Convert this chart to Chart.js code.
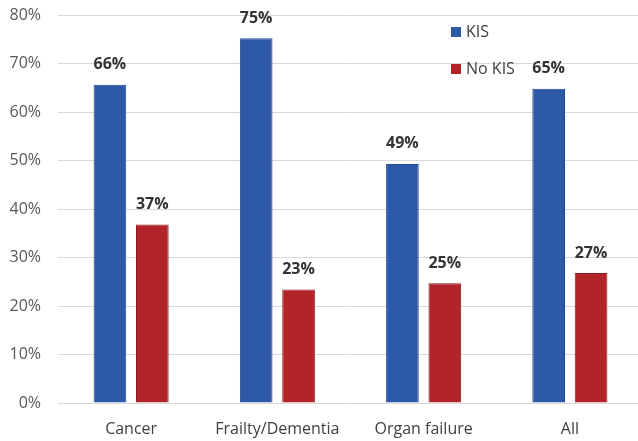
<!DOCTYPE html>
<html>
<head>
<meta charset="utf-8">
<script src="https://cdn.jsdelivr.net/npm/chart.js@4/dist/chart.umd.min.js"></script>
<style>
  html, body { margin: 0; padding: 0; background: #fff; overflow: hidden; }
  #wrap { width: 643px; height: 441px; }
</style>
</head>
<body>
<div id="wrap"><canvas id="kis-chart"></canvas></div>
<script>
const categories = ["Cancer", "Frailty/Dementia", "Organ failure", "All"];
const kisValues = [65.6, 75.2, 49.3, 64.8];
const noKisValues = [36.8, 23.4, 24.7, 26.8];
const yTicks = [0, 10, 20, 30, 40, 50, 60, 70, 80];

const fontFamily = "'Open Sans', sans-serif";

// value labels above each bar
const barLabels = {
  id: 'barLabels',
  afterDatasetsDraw(chart) {
    const ctx = chart.ctx;
    ctx.save();
    ctx.font = "bold 16px " + fontFamily;
    ctx.fillStyle = '#333333';
    ctx.textAlign = 'center';
    ctx.textBaseline = 'middle';
    chart.data.datasets.forEach((ds, i) => {
      chart.getDatasetMeta(i).data.forEach((bar, j) => {
        ctx.fillText(Math.round(ds.data[j]) + '%', bar.x, bar.y - 20);
      });
    });
    ctx.restore();
  }
};

// legend drawn inside the plot, top right
const boxLegend = {
  id: 'boxLegend',
  afterDraw(chart) {
    const ctx = chart.ctx;
    ctx.save();
    ctx.font = "16px " + fontFamily;
    ctx.textBaseline = 'middle';
    chart.data.datasets.forEach((ds, i) => {
      const y = 32 + i * 37;
      ctx.fillStyle = ds.backgroundColor;
      ctx.fillRect(451, y - 5, 10, 10);
      ctx.fillStyle = '#404040';
      ctx.fillText(ds.label, 466, y);
    });
    ctx.restore();
  }
};

new Chart(document.getElementById('kis-chart'), {
  type: 'bar',
  data: {
    labels: categories,
    datasets: [{
      label: 'KIS',
      data: kisValues,
      backgroundColor: '#2E58A8',
      borderColor: '#234a90',
      borderWidth: 1
    }, {
      label: 'No KIS',
      data: noKisValues,
      backgroundColor: '#B22428',
      borderColor: '#8f1c1f',
      borderWidth: 1
    }]
  },
  options: {
    responsive: true,
    maintainAspectRatio: false,
    animation: { duration: 0 },
    categoryPercentage: 0.58,
    barPercentage: 0.77,
    layout: { padding: { top: 15, right: 0, left: 0, bottom: 0 } },
    scales: {
      x: {
        grid: { display: false },
        border: { display: false },
        ticks: { color: '#404040', font: { family: fontFamily, size: 16 }, padding: 9 },
        afterFit: s => { s.height = 38; }
      },
      y: {
        min: 0,
        max: 80,
        afterBuildTicks: s => { s.ticks = yTicks.map(v => ({ value: v })); },
        grid: { color: '#d9d9d9', drawTicks: false },
        border: { display: false },
        ticks: {
          color: '#595959',
          font: { family: fontFamily, size: 16 },
          padding: 17,
          callback: v => v + '%'
        },
        afterFit: s => { s.width = 58; s.paddingTop = 0; s.paddingBottom = 0; }
      }
    },
    plugins: {
      legend: { display: false },
      tooltip: { enabled: false }
    }
  },
  plugins: [barLabels, boxLegend]
});
</script>
</body>
</html>
